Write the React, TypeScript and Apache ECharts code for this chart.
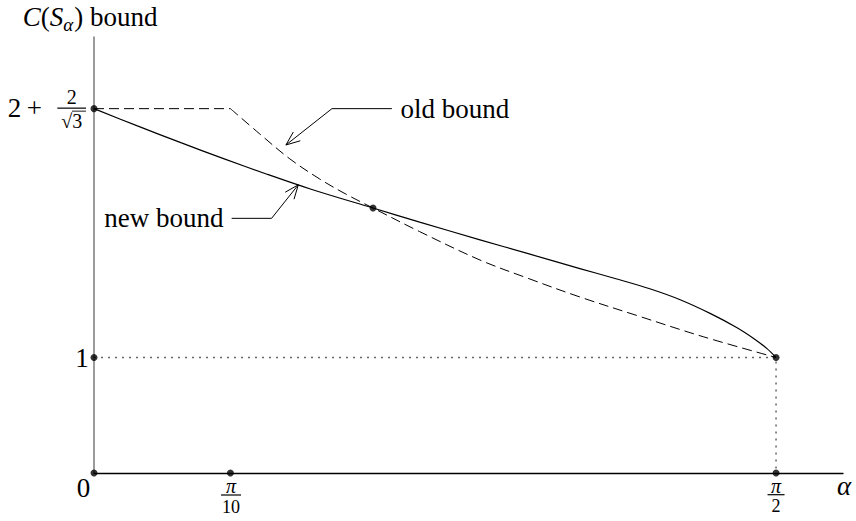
import React, { useEffect, useRef } from 'react';
import * as echarts from 'echarts';

const PI = Math.PI;
const TOP = 2 + 2 / Math.sqrt(3);
const X_MAX = 1.725;
const Y_MAX = 3.775;

// new bound (solid)
const newBound: number[][] = [
  [0, TOP], [0.1, 3.005], [0.2, 2.86], [0.3, 2.72], [0.4, 2.585], [0.5, 2.457],
  [0.6426, 2.294], [0.75, 2.172], [0.889, 2.019], [1.0, 1.899], [1.119, 1.77],
  [1.2, 1.684], [1.28, 1.595], [1.35, 1.5], [1.42, 1.38], [1.48, 1.26],
  [1.52, 1.163], [1.55, 1.077], [PI / 2, 1],
];
// old bound (dashed): flat part then curve
const oldFlat: number[][] = [[0, TOP], [PI / 10, TOP]];
const oldCurve: number[][] = [
  [PI / 10, TOP], [0.382, 2.935], [0.451, 2.72], [0.52, 2.545], [0.58, 2.415],
  [0.6426, 2.294], [0.75, 2.09], [0.889, 1.844], [1.0, 1.685], [1.119, 1.524],
  [1.25, 1.364], [1.403, 1.18], [PI / 2, 1],
];
// dotted guides
const guide: number[][] = [[0, 1], [PI / 2, 1], [PI / 2, 0]];
// marked points
const marked: number[][] = [
  [0, TOP], [0.6426, 2.294], [PI / 2, 1], [0, 1], [0, 0], [PI / 10, 0], [PI / 2, 0],
];
// annotation leaders (data coords)
const oldLeader: number[][] = [[0.686, TOP], [0.548, TOP], [0.442, 2.84]];
const oldLabelAt: number[] = [0.706, TOP];
const newLeader: number[][] = [[0.317, 2.205], [0.409, 2.205], [0.4705, 2.495]];
const newLabelAt: number[] = [0.298, 2.205];

const FAMILY = '"Liberation Serif", "DejaVu Serif", serif';

function measure(text: string, size: number, italic: boolean) {
  const c = document.createElement('canvas');
  const ctx = c.getContext('2d')!;
  ctx.font = `${italic ? 'italic ' : ''}${size}px ${FAMILY}`;
  return ctx.measureText(text).width;
}

export default function App() {
  const ref = useRef<HTMLDivElement>(null);
  useEffect(() => {
    document.body.style.margin = '0';
    const chart = echarts.init(ref.current!, null, { renderer: 'svg' });
    chart.setOption({
      animation: false,
      grid: { left: 94, right: 13, top: 37, bottom: 48 },
      xAxis: {
        type: 'value', min: 0, max: X_MAX,
        axisLine: { show: true, lineStyle: { color: '#000', width: 1.3 } },
        axisTick: { show: false }, axisLabel: { show: false }, splitLine: { show: false },
      },
      yAxis: {
        type: 'value', min: 0, max: Y_MAX,
        axisLine: { show: true, lineStyle: { color: '#7a7a7a', width: 1.5 } },
        axisTick: { show: false }, axisLabel: { show: false }, splitLine: { show: false },
      },
      series: [
        { type: 'line', data: guide, symbol: 'none', silent: true, z: 1,
          lineStyle: { type: [2, 5], color: '#666', width: 1.5 } },
        { type: 'line', data: oldFlat, symbol: 'none', silent: true,
          lineStyle: { type: [10, 5], color: '#000', width: 1 } },
        { type: 'line', data: oldCurve, symbol: 'none', silent: true, smooth: 0.35,
          lineStyle: { type: [10, 5], color: '#000', width: 1 } },
        { type: 'line', data: newBound, symbol: 'none', silent: true, smooth: 0.35,
          lineStyle: { color: '#000', width: 1.2 } },
        { type: 'scatter', data: marked, symbolSize: 7, silent: true, z: 5,
          itemStyle: { color: '#000' } },
      ],
    });

    const P = (p: number[]) => chart.convertToPixel({ gridIndex: 0 }, p) as number[];
    const txt = (x: number, y: number, text: string, size: number, italic = false, align = 'center') => ({
      type: 'text', x, y, silent: true,
      style: { text, font: `${italic ? 'italic ' : ''}${size}px ${FAMILY}`,
        fill: '#000', align, verticalAlign: 'middle' },
    });
    const seg = (x1: number, y1: number, x2: number, y2: number, w = 1) => ({
      type: 'line', silent: true, shape: { x1, y1, x2, y2 }, style: { stroke: '#000', lineWidth: w },
    });
    const leader = (pts: number[][]) => {
      const px = pts.map(P);
      const els: any[] = [{ type: 'polyline', silent: true, shape: { points: px },
        style: { stroke: '#000', lineWidth: 1, fill: null } }];
      const tip = px[px.length - 1];
      const prev = px[px.length - 2];
      const dx = prev[0] - tip[0], dy = prev[1] - tip[1];
      const L = Math.hypot(dx, dy);
      const ux = dx / L, uy = dy / L;
      const a = (22 * Math.PI) / 180, len = 15;
      for (const s of [a, -a]) {
        const rx = ux * Math.cos(s) - uy * Math.sin(s);
        const ry = ux * Math.sin(s) + uy * Math.cos(s);
        els.push(seg(tip[0], tip[1], tip[0] + rx * len, tip[1] + ry * len, 1));
      }
      return els;
    };

    const g: any[] = [];
    // title C(S_alpha) bound
    {
      let x = 22.7;
      const y = 17;
      const parts = [
        { t: 'C', it: true, sz: 27, dy: 0 },
        { t: '(', it: false, sz: 27, dy: 0 },
        { t: 'S', it: true, sz: 27, dy: 0 },
        { t: 'α', it: true, sz: 19, dy: 7 },
        { t: ') bound', it: false, sz: 27, dy: 0 },
      ];
      for (const p of parts) {
        g.push(txt(x, y + p.dy, p.t, p.sz, p.it, 'left'));
        x += measure(p.t, p.sz, p.it) + (p.t === 'α' ? 1 : 0);
      }
    }
    // tick labels
    const O = P([0, 0]);
    g.push(txt(O[0] - 10.5, O[1] + 14.5, '0', 27));
    const one = P([0, 1]);
    g.push(txt(one[0] - 12, one[1], '1', 27));
    const T = P([0, TOP]);
    g.push(txt(T[0] - 52, T[1] - 1, '2\u2009+', 27, false, 'right'));
    g.push(txt(T[0] - 22.3, T[1] - 12, '2', 20));
    g.push(seg(T[0] - 36.7, T[1] - 0.5, T[0] - 8, T[1] - 0.5, 1.2));
    g.push(txt(T[0] - 22.3, T[1] + 12.5, '√3', 20));
    g.push(seg(T[0] - 22, T[1] + 2.5, T[0] - 8, T[1] + 2.5, 0.9));
    const p10 = P([PI / 10, 0]);
    g.push(txt(p10[0] + 0.6, p10[1] + 13, 'π', 20, true));
    g.push(seg(p10[0] - 9.4, p10[1] + 22, p10[0] + 10.6, p10[1] + 22, 1.2));
    g.push(txt(p10[0] + 0.6, p10[1] + 33.5, '10', 18));
    const p2 = P([PI / 2, 0]);
    g.push(txt(p2[0], p2[1] + 13, 'π', 20, true));
    g.push(seg(p2[0] - 8.5, p2[1] + 21.7, p2[0] + 8.5, p2[1] + 21.7, 1.2));
    g.push(txt(p2[0], p2[1] + 33, '2', 18));
    const xe = P([X_MAX, 0]);
    g.push(txt(xe[0] + 1, xe[1] + 13, 'α', 27, true));
    // annotations
    g.push(...leader(oldLeader));
    const ol = P(oldLabelAt);
    g.push(txt(ol[0], ol[1], 'old bound', 27, false, 'left'));
    g.push(...leader(newLeader));
    const nl = P(newLabelAt);
    g.push(txt(nl[0], nl[1], 'new bound', 27, false, 'right'));

    chart.setOption({ graphic: g });
    return () => chart.dispose();
  }, []);
  return <div ref={ref} style={{ width: 856, height: 521 }} />;
}
